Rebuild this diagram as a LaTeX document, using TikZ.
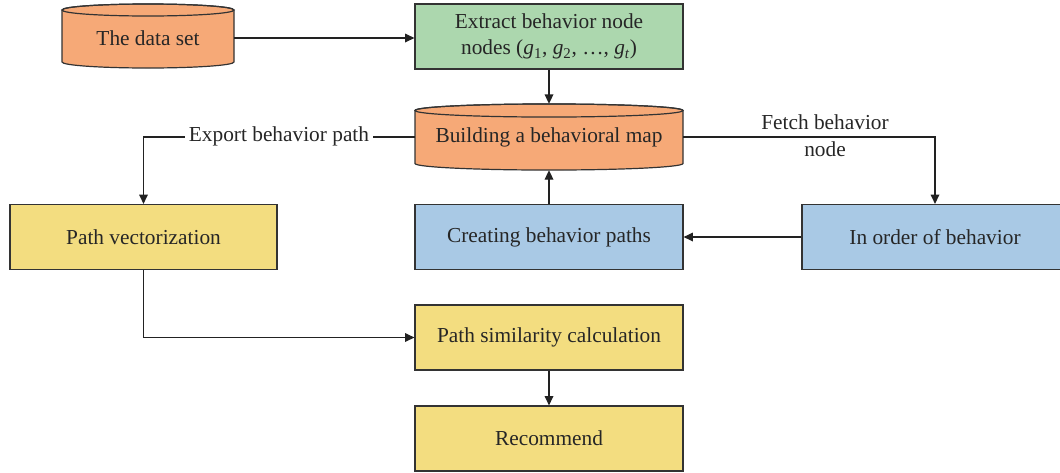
\documentclass[tikz,border=0pt]{standalone}
\usepackage{fontspec}
\setmainfont{Liberation Serif}
\usetikzlibrary{arrows.meta}
\definecolor{corange}{HTML}{F6A977}
\definecolor{cgreen}{HTML}{ACD7AE}
\definecolor{cblue}{HTML}{A9C9E5}
\definecolor{cyellow}{HTML}{F3DD80}
\definecolor{cborder}{HTML}{333333}
\definecolor{cline}{HTML}{222222}
\begin{document}
\begin{tikzpicture}[x=0.75pt,y=-0.75pt,
  font=\fontsize{16}{19.5}\selectfont,
  box/.style={draw=cborder, line width=0.9pt, minimum width=201pt, minimum height=48.75pt, inner sep=0pt, align=center, text=black!85},
  cylnode/.style={minimum width=201pt, minimum height=49.5pt, inner sep=0pt, align=center, text=black!85},
  cylbody/.style={draw=cborder, line width=0.9pt, fill=corange},
  arr/.style={draw=cline, line width=0.9pt, -{Triangle[length=7pt,width=6.5pt]}},
  lbl/.style={fill=white, inner sep=3pt, text=black!85}]
\useasboundingbox (0,0) rectangle (1060,472);

% cylinder: the data set
\path[cylbody] (62,10) -- (62,62) arc[start angle=180, end angle=360, x radius=64.5pt, y radius=4.5pt]
  -- (234,10) arc[start angle=0, end angle=180, x radius=64.5pt, y radius=4.5pt] -- cycle;
\draw[draw=cborder, line width=0.9pt] (148,10) ellipse[x radius=64.5pt, y radius=4.5pt];
\node[cylnode, minimum width=129pt, minimum height=48pt] (dset) at (148,38) {The data set};

% cylinder: behavioral map
\path[cylbody] (415,110.5) -- (415,163.5) arc[start angle=180, end angle=360, x radius=100.5pt, y radius=4.9pt]
  -- (683,110.5) arc[start angle=0, end angle=180, x radius=100.5pt, y radius=4.9pt] -- cycle;
\draw[draw=cborder, line width=0.9pt] (549,110.5) ellipse[x radius=100.5pt, y radius=4.9pt];
\node[cylnode] (map) at (549,137) {Building a behavioral map};

\node[box, fill=cgreen] (extract) at (549,36.5) {Extract behavior node\\nodes ({\itshape g}\textsubscript{1}, {\itshape g}\textsubscript{2}, \dots, {\itshape g\textsubscript{t}})};
\node[box, fill=cyellow, minimum width=200.25pt] (pv) at (143.5,237) {Path vectorization};
\node[box, fill=cblue] (create) at (549,237) {Creating behavior paths};
\node[box, fill=cblue, minimum width=199.5pt] (order) at (935,237) {In order of behavior};
\node[box, fill=cyellow] (sim) at (549,337.5) {Path similarity calculation};
\node[box, fill=cyellow] (rec) at (549,438.5) {Recommend};

% connectors
\draw[arr] (dset.east) -- (dset.east -| extract.west);
\draw[arr] (extract.south) -- (map.north);
\draw[arr] (create.north) -- (map.south);
\draw[arr] (map.west) -| (pv.north);
\draw[arr] (map.east) -| (order.north);
\draw[arr] (order.west) -- (create.east);
\draw[arr] (pv.south) |- (sim.west);
\draw[arr] (sim.south) -- (rec.north);

% labels
\node[lbl] (exportlbl) at (279,136) {Export behavior path};
\node[align=center, inner sep=0pt, text=black!85, font=\fontsize{16}{20}\selectfont] (fetchlbl) at (825,136) {Fetch behavior\\node};
\end{tikzpicture}
\end{document}
